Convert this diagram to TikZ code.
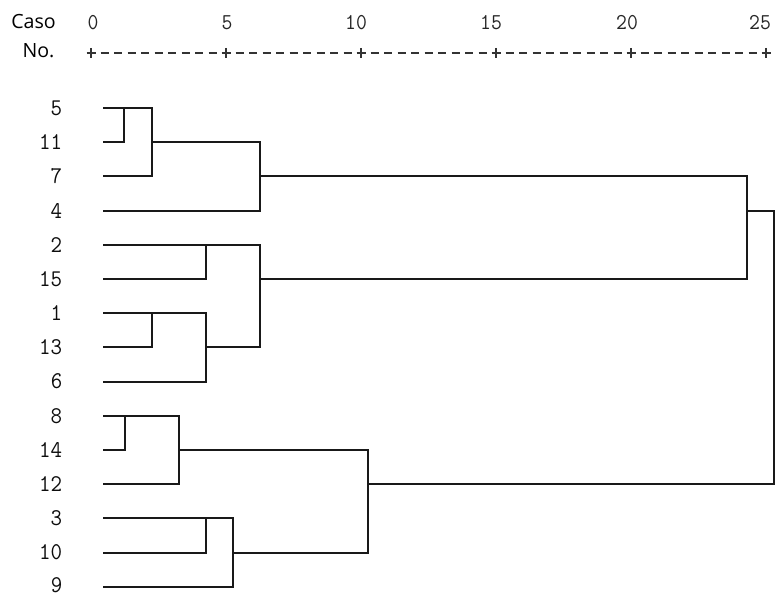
\documentclass[tikz,border=0pt]{standalone}
\usepackage{fontspec}
\usetikzlibrary{calc}
\newfontfamily\headfont{Open Sans}
\newcommand{\dgt}[1]{\scalebox{0.93}[1]{#1}}
\begin{document}
\begin{tikzpicture}[x=0.75pt,y=-0.75pt,
  dend/.style={line width=1.5pt,line cap=rect,line join=miter,black!90},
  leaflab/.style={anchor=east,inner sep=0pt,font=\ttfamily\fontsize{18pt}{20pt}\selectfont,text=black!95},
  axlab/.style={inner sep=0pt,font=\ttfamily\fontsize{17pt}{19pt}\selectfont,text=black!85},
  headlab/.style={inner sep=0pt,font=\headfont\fontsize{14.7pt}{16pt}\selectfont},
  axline/.style={line width=0.9pt,black!80}]
\useasboundingbox (0,0) rectangle (777,595);
% header
\node[headlab] (caso) at (33.5,22) {Caso};
\node[headlab] (no) at (38.5,51) {No.};
\foreach \v/\x in {0/93,5/227,10/356,15/491,20/627,25/760}
  \node[axlab] (ax\v) at (\x,23) {\dgt{\v}};
\foreach \i in {0,...,5}{
  \coordinate (p\i) at (91+135*\i,53);
  \draw[axline] ($(p\i)+(-4.5,0)$) -- ($(p\i)+(4.5,0)$);
  \draw[axline] ($(p\i)+(0,-5)$) -- ($(p\i)+(0,5)$);
}
\foreach \i in {0,...,4}{
  \foreach \j in {1,...,9}{
    \draw[axline] (91+135*\i+13.5*\j-4,53) -- (91+135*\i+13.5*\j+4,53);
  }
}
% leaves
\foreach \n/\y in {5/108,11/142.2,7/176.4,4/210.6,2/244.8,15/279,1/313.2,13/347.4,6/381.6,8/415.8,14/450,12/484.2,3/518.4,10/552.6,9/585.6}{
  \node[leaflab] (lab\n) at (62.5,\y) {\dgt{\n}};
}
\foreach \n/\y in {5/108,11/142.2,7/176.4,4/210.6,2/244.8,15/279,1/313.2,13/347.4,6/381.6,8/415.8,14/450,12/484.2,3/518.4,10/552.6,9/586.8}{
  \coordinate (s\n) at (104,\y);
}
% join coordinates
\coordinate (a2) at (124,142.2);   \coordinate (a1) at (124,108);
\coordinate (b1) at (152,108);     \coordinate (b2) at (152,176.4);  \coordinate (bo) at (152,142.2);
\coordinate (c1) at (260,142.2);   \coordinate (c2) at (260,210.6);  \coordinate (co) at (260,176.4);
\coordinate (d1) at (206,244.8);   \coordinate (d2) at (206,279);
\coordinate (e1) at (152,313.2);   \coordinate (e2) at (152,347.4);
\coordinate (f1) at (206,313.2);   \coordinate (f2) at (206,381.6);  \coordinate (fo) at (206,347.4);
\coordinate (g1) at (260,244.8);   \coordinate (g2) at (260,347.4);  \coordinate (go) at (260,279);
\coordinate (h1) at (747,176.4);   \coordinate (h2) at (747,279);    \coordinate (ho) at (747,210.6);
\coordinate (i1) at (125,415.8);   \coordinate (i2) at (125,450);
\coordinate (j1) at (179,415.8);   \coordinate (j2) at (179,484.2);  \coordinate (jo) at (179,450);
\coordinate (k1) at (206,518.4);   \coordinate (k2) at (206,552.6);
\coordinate (m1) at (233,518.4);   \coordinate (m2) at (233,586.8);  \coordinate (mo) at (233,552.6);
\coordinate (n1) at (368,450);     \coordinate (n2) at (368,552.6);  \coordinate (no2) at (368,484.2);
\coordinate (r1) at (774,210.6);   \coordinate (r2) at (774,484.2);
% tree
\draw[dend] (s5) -- (b1) -- (b2) -- (s7);
\draw[dend] (a1) -- (a2) -- (s11);
\draw[dend] (bo) -- (c1) -- (c2) -- (s4);
\draw[dend] (co) -- (h1) -- (h2) -- (go);
\draw[dend] (s2) -- (g1) -- (g2) -- (fo);
\draw[dend] (d1) -- (d2) -- (s15);
\draw[dend] (s1) -- (f1) -- (f2) -- (s6);
\draw[dend] (e1) -- (e2) -- (s13);
\draw[dend] (ho) -- (r1) -- (r2) -- (no2);
\draw[dend] (s8) -- (j1) -- (j2) -- (s12);
\draw[dend] (i1) -- (i2) -- (s14);
\draw[dend] (jo) -- (n1) -- (n2) -- (mo);
\draw[dend] (s3) -- (m1) -- (m2) -- (s9);
\draw[dend] (k1) -- (k2) -- (s10);
\end{tikzpicture}
\end{document}
